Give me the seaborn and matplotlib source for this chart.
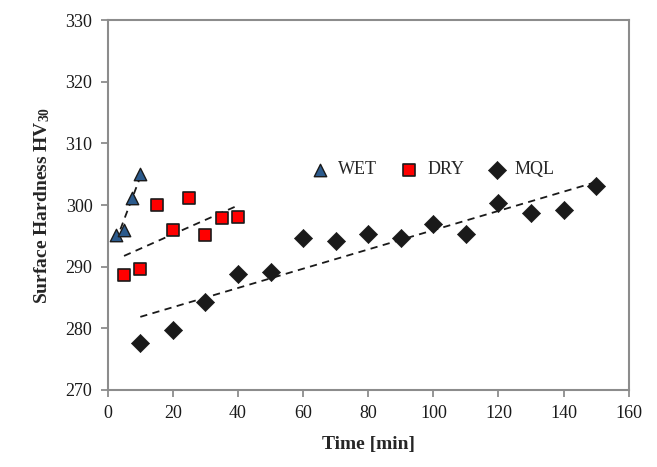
"""
surface hardness vs time for WET / DRY / MQL cooling
"""
import matplotlib as mpl
mpl.use('Agg')
from matplotlib import pyplot as plt
import numpy as np
import pandas as pd
import seaborn as sns

# data
wet_time = [2.5, 5, 7.5, 10]
wet_hv = [295.2, 296.0, 301.1, 305.1]

dry_time = [5, 10, 15, 20, 25, 30, 35, 40]
dry_hv = [288.6, 289.7, 300.0, 296.0, 301.2, 295.2, 297.9, 298.1]

mql_time = [10, 20, 30, 40, 50, 60, 70, 80, 90, 100, 110, 120, 130, 140, 150]
mql_hv = [277.6, 279.7, 284.3, 288.8, 289.1, 294.7, 294.1, 295.3, 294.7,
          296.9, 295.3, 300.4, 298.7, 299.2, 303.1]

x_ticks = [0, 20, 40, 60, 80, 100, 120, 140, 160]
y_ticks = [270, 280, 290, 300, 310, 320, 330]

sns.set_theme(style='white')
plt.rcParams.update({'font.family': 'serif',
                     'font.serif': ['Liberation Serif', 'DejaVu Serif'],
                     'mathtext.fontset': 'custom',
                     'mathtext.rm': 'Liberation Serif',
                     'mathtext.bf': 'Liberation Serif:bold',
                     'font.size': 13})

wet_blue = '#2b5a8c'
grey = '#8c8c8c'

fig = plt.figure(figsize=(6.57, 4.67), dpi=100)
ax = fig.add_axes([0.164, 0.165, 0.793, 0.792])

wet = pd.DataFrame({'t': wet_time, 'hv': wet_hv})
dry = pd.DataFrame({'t': dry_time, 'hv': dry_hv})
mql = pd.DataFrame({'t': mql_time, 'hv': mql_hv})

# linear trend lines (dashed), drawn over each data range
line_kws = dict(color='k', ls=(0, (4, 3)), lw=1.3)
for df in [wet, dry, mql]:
    sns.regplot(data=df, x='t', y='hv', ax=ax, scatter=False, ci=None,
                line_kws=line_kws)

sns.scatterplot(data=wet, x='t', y='hv', ax=ax, marker='^', s=80,
                color=wet_blue, edgecolor='k', linewidth=1, label='WET', zorder=3)
sns.scatterplot(data=dry, x='t', y='hv', ax=ax, marker='s', s=72,
                color='#ff0000', edgecolor='k', linewidth=1.2, label='DRY', zorder=3)
sns.scatterplot(data=mql, x='t', y='hv', ax=ax, marker='D', s=85,
                color='k', edgecolor='k', linewidth=0.5, label='MQL', zorder=3)

ax.set_xlim(0, 160)
ax.set_ylim(270, 330)
ax.set_xticks(x_ticks)
ax.set_yticks(y_ticks)
ax.set_xlabel('Time [min]', fontsize=14, fontweight='bold', labelpad=10)
ax.set_ylabel(r'Surface Hardness HV$\mathbf{_{30}}$', fontsize=14,
              fontweight='bold', labelpad=10)

for sp in ax.spines.values():
    sp.set_color(grey)
    sp.set_linewidth(1.5)
ax.tick_params(axis='both', which='major', direction='out', length=5,
               width=1.3, color=grey, labelsize=13, labelcolor='k',
               bottom=True, left=True, pad=6)

ax.legend(loc='center left', bbox_to_anchor=(0.355, 0.595), ncol=3, frameon=False,
          handlelength=1.2, handletextpad=0.4, columnspacing=1.2,
          fontsize=13, markerscale=1.0)

fig.savefig('out.png', dpi=100)
